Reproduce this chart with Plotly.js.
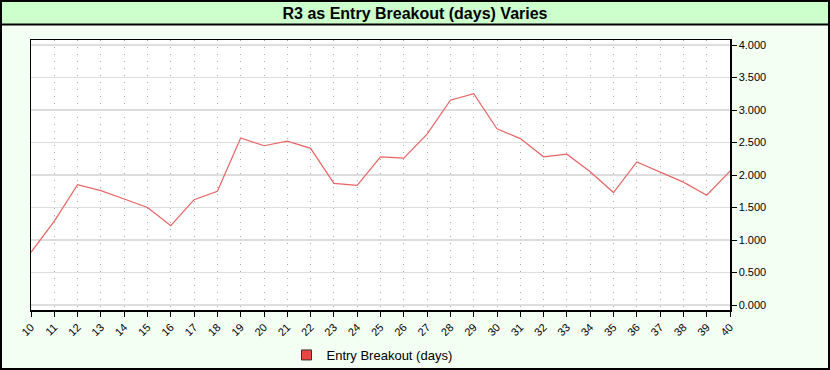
<!DOCTYPE html>
<html>
<head>
<meta charset="utf-8">
<script src="https://cdn.plot.ly/plotly-3.0.1.min.js"></script>
<style>
  html, body { margin: 0; padding: 0; background: #f4fff4; }
  #chart { width: 830px; height: 370px; }
</style>
</head>
<body>
<div id="chart"></div>
<script>
const entryDays = [10, 11, 12, 13, 14, 15, 16, 17, 18, 19, 20, 21, 22, 23, 24, 25, 26, 27, 28, 29, 30, 31, 32, 33, 34, 35, 36, 37, 38, 39, 40];
const r3Values = [0.81, 1.29, 1.85, 1.76, 1.63, 1.50, 1.22, 1.62, 1.75, 2.57, 2.45, 2.52, 2.41, 1.87, 1.84, 2.28, 2.26, 2.63, 3.15, 3.25, 2.71, 2.56, 2.28, 2.32, 2.05, 1.73, 2.20, 2.05, 1.89, 1.69, 2.06];
const yTickValues = [0, 0.5, 1, 1.5, 2, 2.5, 3, 3.5, 4];
const seriesName = "Entry Breakout (days)";
const chartTitle = "R3 as Entry Breakout (days) Varies";

const FONT = "Liberation Sans, Arial, sans-serif";
const L = 31, R = 100, T = 40, B = 60;
const PW = 830 - L - R, PH = 370 - T - B;
const px = v => (v - L) / PW;
const py = v => 1 - (v - T) / PH;

const traces = [
  {
    x: entryDays, y: r3Values, type: "scatter", mode: "lines",
    line: { color: "rgb(232,100,100)", width: 1.2 },
    showlegend: false, hoverinfo: "x+y"
  },
  {
    x: [null], y: [null], type: "scatter", mode: "markers", name: seriesName,
    marker: { symbol: "square", size: 10, color: "#ee4444", line: { color: "#333333", width: 1 } },
    showlegend: true
  }
];

const layout = {
  width: 830, height: 370,
  margin: { l: L, r: R, t: T, b: B, pad: 0, autoexpand: false },
  paper_bgcolor: "#f4fff4",
  plot_bgcolor: "#ffffff",
  font: { family: FONT, size: 11, color: "#000" },
  title: {
    text: "<b>" + chartTitle + "</b>", font: { family: FONT, size: 16, color: "#000" },
    x: 0.5, xref: "container", xanchor: "center",
    y: 1 - 13 / 370, yref: "container", yanchor: "middle"
  },
  xaxis: {
    range: [10, 40], tickmode: "array", tickvals: entryDays,
    ticktext: entryDays.map(String), automargin: false,
    tickangle: -45, ticks: "outside", ticklen: 5, tickcolor: "#000", tickwidth: 1,
    showline: true, linecolor: "#000", linewidth: 1.5, mirror: true,
    showgrid: true, gridcolor: "#aaaaaa", gridwidth: 1, griddash: "1px,6px",
    zeroline: false, tickfont: { family: FONT, size: 11, color: "#000" }
  },
  yaxis: {
    side: "right", range: [-0.077, 4.077], tickmode: "array", tickvals: yTickValues,
    tickformat: ".3f", ticks: "outside", ticklen: 5, tickcolor: "#000", tickwidth: 1,
    showline: true, linecolor: "#000", linewidth: 1.5, mirror: true, automargin: false,
    showgrid: true, gridcolor: "#dddddd", gridwidth: 1.5,
    zeroline: false, tickfont: { family: FONT, size: 11, color: "#000" }
  },
  legend: {
    orientation: "h", x: px(372), xanchor: "center", y: py(355), yanchor: "middle",
    bgcolor: "rgba(0,0,0,0)", font: { family: FONT, size: 13, color: "#000" }
  },
  shapes: [
    { type: "rect", xref: "paper", yref: "paper", x0: px(0), x1: px(830), y0: py(24.5), y1: py(0),
      fillcolor: "#ccffcc", line: { width: 0 }, layer: "below" },
    { type: "line", xref: "paper", yref: "paper", x0: px(0), x1: px(830), y0: py(24.5), y1: py(24.5),
      line: { color: "#000", width: 2 } },
    { type: "rect", xref: "paper", yref: "paper", x0: px(1), x1: px(829), y0: py(369), y1: py(1),
      fillcolor: "rgba(0,0,0,0)", line: { color: "#000", width: 2 } }
  ],
  hovermode: "closest"
};

Plotly.newPlot("chart", traces, layout, { displayModeBar: false, staticPlot: true });
</script>
</body>
</html>
